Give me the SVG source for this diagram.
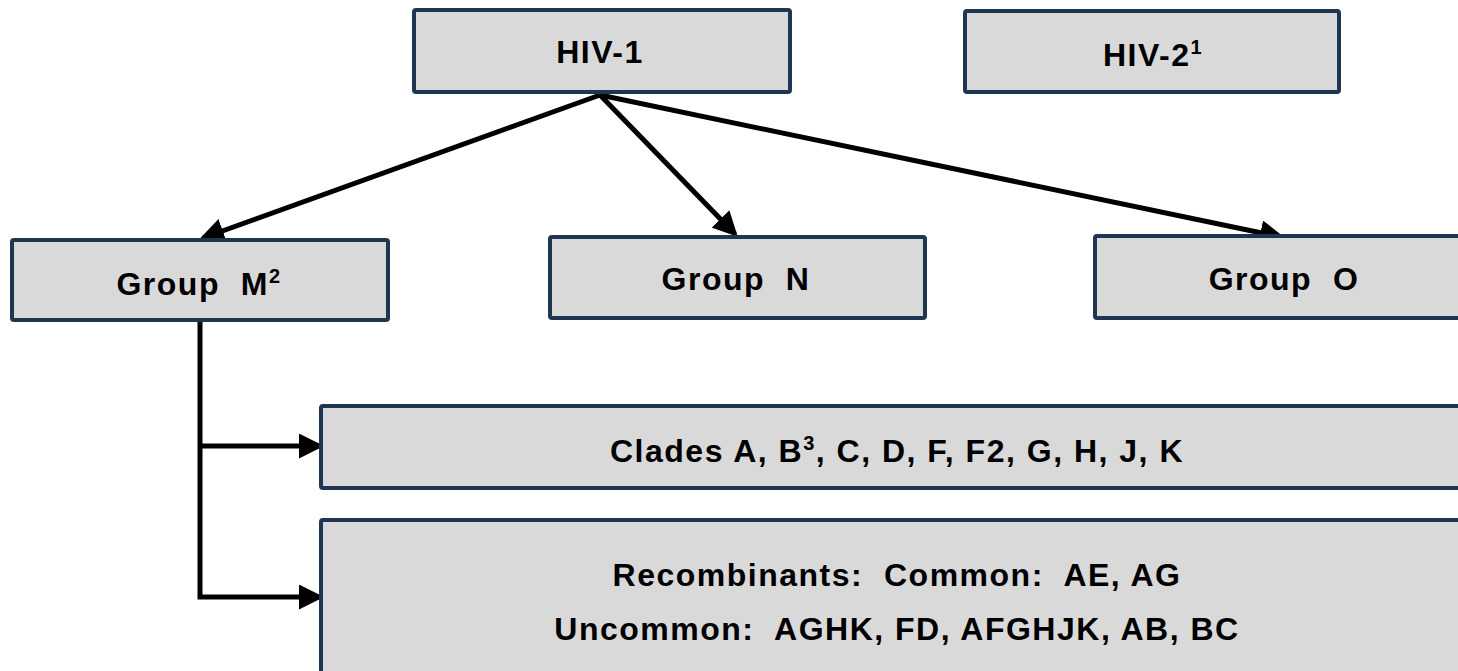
<svg xmlns="http://www.w3.org/2000/svg" width="1458" height="671" viewBox="0 0 1458 671">
<style>
.box{fill:#d9d9d9;stroke:#1f3652;stroke-width:4}
.lbl{font-family:"Liberation Sans",Arial,sans-serif;font-weight:bold;font-size:32px;letter-spacing:1.5px;fill:#000;text-anchor:middle;white-space:pre}
.sup{font-size:20px}
.con{stroke:#000;stroke-width:5;fill:none}
</style>
<defs>
<marker id="ah" markerWidth="5" markerHeight="5" refX="4.2" refY="2.5" orient="auto" markerUnits="strokeWidth">
<path d="M0,0 L5,2.5 L0,5 Z" fill="#000"/>
</marker>
</defs>
<g id="connectors">
<line class="con" x1="600" y1="95" x2="203" y2="238" marker-end="url(#ah)"/>
<line class="con" x1="600" y1="95" x2="735" y2="234" marker-end="url(#ah)"/>
<line class="con" x1="600" y1="95" x2="1281" y2="237" marker-end="url(#ah)"/>
<path class="con" d="M200,322 V597 H320" marker-end="url(#ah)"/>
<line class="con" x1="200" y1="446" x2="320" y2="446" marker-end="url(#ah)"/>
</g>
<g id="hiv1">
<rect class="box" x="414" y="10" width="376" height="82" rx="2"/>
<text class="lbl" x="600" y="63" xml:space="preserve">HIV-1</text>
</g>
<g id="hiv2">
<rect class="box" x="965" y="11" width="374" height="81" rx="2"/>
<text class="lbl" x="1153" y="66" xml:space="preserve">HIV-2<tspan class="sup" dy="-12">1</tspan></text>
</g>
<g id="groupM">
<rect class="box" x="12" y="240" width="376" height="80" rx="2"/>
<text class="lbl" x="199" y="295" xml:space="preserve">Group  M<tspan class="sup" dy="-12">2</tspan></text>
</g>
<g id="groupN">
<rect class="box" x="550" y="237" width="375" height="81" rx="2"/>
<text class="lbl" x="736" y="290" xml:space="preserve">Group  N</text>
</g>
<g id="groupO">
<rect class="box" x="1095" y="236" width="380" height="82" rx="2"/>
<text class="lbl" x="1284" y="290" xml:space="preserve">Group  O</text>
</g>
<g id="clades">
<rect class="box" x="321" y="406" width="1150" height="82" rx="2"/>
<text class="lbl" x="897" y="462" xml:space="preserve">Clades A, B<tspan class="sup" dy="-12">3</tspan><tspan dy="12">, C, D, F, F2, G, H, J, K</tspan></text>
</g>
<g id="recombinants">
<rect class="box" x="321" y="520" width="1150" height="170" rx="2"/>
<text class="lbl" x="897" y="586" xml:space="preserve">Recombinants:  Common:  AE, AG</text>
<text class="lbl" x="897" y="640" xml:space="preserve">Uncommon:  AGHK, FD, AFGHJK, AB, BC</text>
</g>
</svg>
